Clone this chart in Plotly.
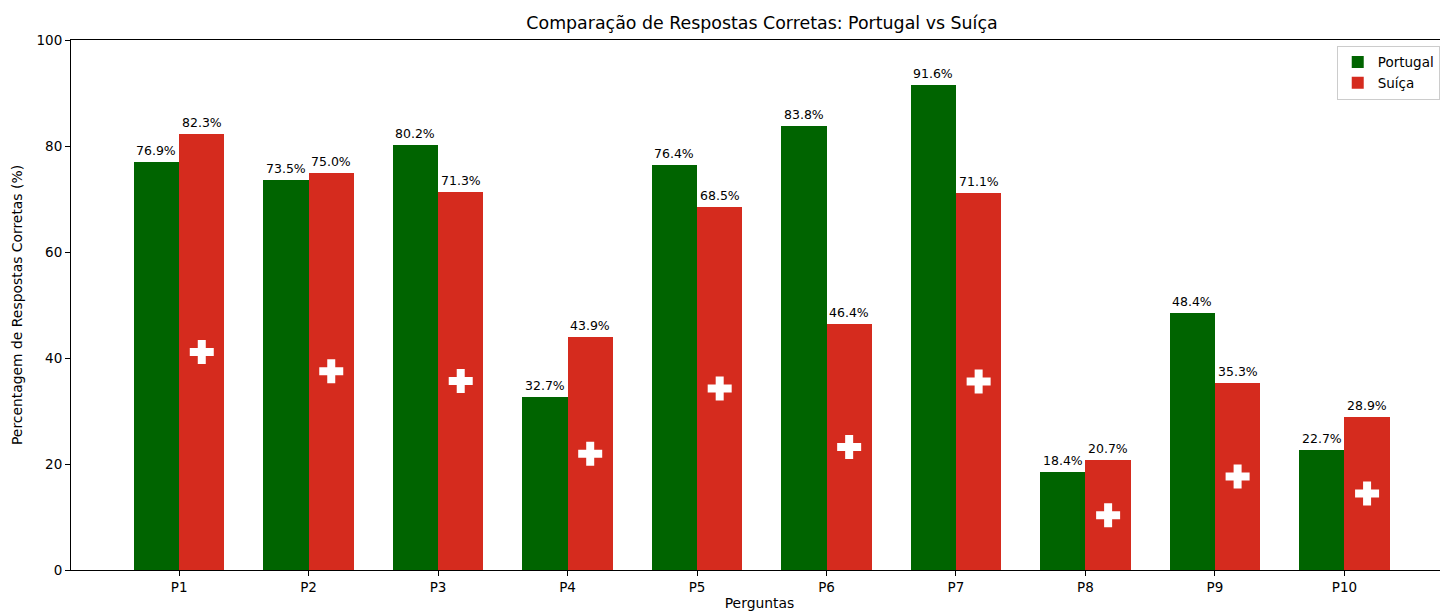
import plotly.graph_objects as go

perguntas = ["P1", "P2", "P3", "P4", "P5", "P6", "P7", "P8", "P9", "P10"]
portugal = [76.9, 73.5, 80.2, 32.7, 76.4, 83.8, 91.6, 18.4, 48.4, 22.7]
suica = [82.3, 75.0, 71.3, 43.9, 68.5, 46.4, 71.1, 20.7, 35.3, 28.9]

width = 0.35
idx = list(range(len(perguntas)))
x_pt = [i - width / 2 for i in idx]
x_ch = [i + width / 2 for i in idx]

GREEN = "#006400"
RED = "#D52B1E"
FONT = "DejaVu Sans"

W, H = 1440, 606          # page body has an 8px margin
L, T, B, R = 63, 32, 44, 0
PW = W - L - R

fig = go.Figure()
fig.add_trace(go.Bar(x=x_pt, y=portugal, width=width, name="Portugal",
                     marker=dict(color=GREEN, line=dict(width=0))))
fig.add_trace(go.Bar(x=x_ch, y=suica, width=width, name="Suíça",
                     marker=dict(color=RED, line=dict(width=0))))

# Swiss crosses
fig.add_trace(go.Scatter(x=x_ch, y=[v / 2 for v in suica], mode="markers",
                         marker=dict(symbol="cross", size=20, color="white",
                                     line=dict(width=0)),
                         showlegend=False, hoverinfo="skip"))

annotations = []
for xs, vals in ((x_pt, portugal), (x_ch, suica)):
    for x, v in zip(xs, vals):
        annotations.append(dict(x=x, y=v, xref="x", yref="y", text=f"{v:.1f}%",
                                showarrow=False, yanchor="bottom", yshift=2,
                                font=dict(family=FONT, size=12.5, color="black")))

fig.update_layout(
    width=W, height=H,
    margin=dict(l=L, r=R, t=T, b=B, pad=0),
    paper_bgcolor="white", plot_bgcolor="white",
    bargap=0, barmode="overlay",
    font=dict(family=FONT, size=13.9, color="black"),
    annotations=annotations,
    title=dict(text="Comparação de Respostas Corretas: Portugal vs Suíça",
               x=(754 - L) / PW, xref="paper", xanchor="center",
               y=1 - 15 / H, yref="container", yanchor="middle",
               font=dict(family=FONT, size=17.4, color="black")),
    xaxis=dict(range=[-0.835, 9.80], tickmode="array", tickvals=idx,
               ticktext=perguntas, showgrid=False, zeroline=False,
               showline=True, linecolor="black", linewidth=1, mirror=True,
               ticks="outside", ticklen=5, tickcolor="black",
               tickfont=dict(family=FONT, size=13.5),
               title=dict(text="Perguntas", standoff=4,
                          font=dict(family=FONT, size=13.9))),
    yaxis=dict(range=[0, 100], tickvals=[0, 20, 40, 60, 80, 100],
               showgrid=False, zeroline=False,
               showline=True, linecolor="black", linewidth=1,
               ticks="outside", ticklen=5, tickcolor="black",
               tickfont=dict(family=FONT, size=13.5),
               title=dict(text="Percentagem de Respostas Corretas (%)", standoff=10,
                          font=dict(family=FONT, size=13.9))),
    legend=dict(x=0.994, y=0.989, xanchor="right", yanchor="top",
                bgcolor="rgba(255,255,255,0.8)", bordercolor="#cccccc",
                borderwidth=1, font=dict(family=FONT, size=13.5),
                itemwidth=30, tracegroupgap=0),
)

fig.write_html("out.html")
